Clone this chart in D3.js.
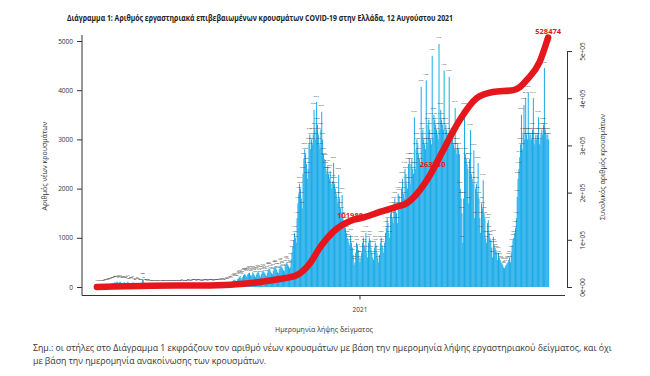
<!DOCTYPE html>
<html>
<head>
<meta charset="utf-8">
<script src="https://cdnjs.cloudflare.com/ajax/libs/d3/7.8.5/d3.min.js"></script>
<style>
body { margin: 0; background: #fff; }
text { font-family: "Open Sans", "DejaVu Sans", sans-serif; }
</style>
</head>
<body>
<div id="chart-area"></div>
<script>

var startDate = "2020-02-26";

// new cases per day (sample date), one row per month
var dailyCases = [
  1, 2, 1, 3,
  2, 3, 5, 9, 12, 20, 28, 35, 40, 45, 30, 50, 60, 55, 70, 80, 65, 90, 95, 85, 110, 100, 75, 95, 105, 90, 80, 70, 85, 95, 80,
  70, 90, 110, 60, 50, 75, 65, 80, 95, 55, 40, 35, 60, 70, 50, 45, 30, 25, 40, 160, 150, 80, 40, 30, 25, 20, 25, 30, 20, 15,
  15, 10, 12, 8, 10, 15, 12, 8, 10, 6, 8, 12, 10, 15, 20, 12, 8, 10, 12, 15, 18, 10, 8, 12, 15, 20, 12, 10, 8, 15, 20,
  18, 10, 12, 15, 20, 25, 15, 10, 12, 18, 15, 20, 25, 30, 20, 18, 15, 22, 28, 30, 35, 25, 20, 28, 35, 30, 25, 20, 18, 25,
  20, 25, 30, 28, 35, 20, 25, 30, 40, 35, 30, 25, 20, 30, 35, 40, 30, 25, 35, 45, 40, 30, 50, 55, 40, 35, 60, 70, 55, 45, 80,
  95, 100, 75, 110, 130, 150, 140, 120, 110, 160, 170, 200, 220, 180, 150, 200, 240, 260, 250, 230, 210, 260, 280, 290, 240, 220, 250, 300, 270, 230, 200,
  250, 280, 320, 290, 240, 200, 260, 300, 340, 310, 280, 250, 220, 290, 350, 380, 360, 310, 280, 260, 330, 400, 420, 390, 350, 300, 280, 360, 430, 450,
  400, 380, 340, 320, 420, 470, 500, 460, 420, 380, 400, 560, 700, 820, 950, 1100, 1000, 900, 1400, 1700, 1900, 2100, 2000, 1800, 1600, 2300, 2600, 2800, 2700, 2500, 2200,
  2400, 2900, 3100, 2800, 3000, 2900, 3100, 3600, 3200, 3000, 3760, 3300, 3100, 2900, 2800, 3200, 3560, 3000, 2700, 2600, 2580, 2400, 2300, 2450, 2300, 2200, 2350, 2100, 2000, 2150,
  2520, 2100, 2000, 1900, 1800, 1700, 2280, 1800, 1600, 1500, 1870, 1400, 1200, 1300, 1200, 1100, 1000, 950, 900, 850, 1050, 900, 800, 650, 450, 500, 700, 900, 850, 750, 600,
  500, 600, 700, 900, 1000, 850, 800, 1100, 700, 600, 900, 1000, 950, 800, 700, 600, 550, 800, 900, 850, 700, 600, 500, 650, 900, 1000, 850, 800, 700, 900, 1100,
  1200, 1400, 1300, 1100, 1000, 1500, 1600, 1400, 1300, 1700, 1800, 1600, 1500, 1300, 1900, 1850, 1700, 1600, 2000, 2200, 1900, 1800, 2400, 2300, 2100, 2000, 2500, 2600,
  2100, 2500, 2600, 2400, 2300, 3450, 2400, 2800, 3000, 2900, 2700, 2600, 2500, 4070, 3100, 3200, 3000, 2900, 2800, 4200, 2900, 3300, 3400, 3200, 3000, 2900, 4700, 3000, 3500, 3400, 3300,
  3200, 3100, 3000, 4940, 3200, 3600, 3400, 3300, 3200, 4400, 3000, 3300, 3200, 3100, 3000, 4270, 2900, 3000, 3100, 3000, 2900, 2800, 3640, 2800, 2700, 2900, 2800, 2700, 2000, 1800,
  1500, 900, 1800, 3600, 2700, 2600, 2500, 2400, 1700, 2600, 3190, 2300, 2200, 2100, 2780, 1400, 2000, 2100, 1900, 2520, 1800, 1400, 1100, 1700, 1600, 2170, 1500, 1400, 1000, 900, 1300,
  1360, 1100, 1000, 950, 800, 600, 1020, 850, 800, 750, 700, 550, 690, 600, 550, 500, 480, 450, 400, 380, 420, 450, 480, 500, 550, 600, 500, 700, 850, 950,
  1000, 1100, 1200, 1400, 1830, 2200, 2400, 2640, 2900, 3500, 2800, 3100, 3700, 3000, 3840, 3100, 3000, 3960, 3100, 3000, 3100, 3000, 3200, 3840, 2900, 3000, 3100, 3000, 3100, 3450, 2900,
  3000, 3100, 3200, 3100, 3300, 4450, 3200, 3100, 3000, 3100, 3000
];

// cumulative total
var cumDates = ["2020-02-27", "2020-04-30", "2020-06-27", "2020-08-02", "2020-09-06", "2020-09-29",
  "2020-10-19", "2020-11-04", "2020-11-16", "2020-12-01", "2020-12-21", "2021-01-07", "2021-01-25",
  "2021-02-12", "2021-02-26", "2021-03-13", "2021-03-25", "2021-04-09", "2021-04-29", "2021-05-19",
  "2021-06-07", "2021-07-01", "2021-07-09", "2021-07-17", "2021-08-01", "2021-08-11"];
var cumValues = [0, 2600, 3300, 5000, 10600, 17000, 25000, 51000, 85000, 117000, 140000, 148000, 159000,
  169000, 178000, 205000, 237000, 288000, 354000, 400000, 413000, 417000, 424000, 439000, 477000, 528474];

var cumLabelDates = ["2020-12-21", "2021-03-28", "2021-08-11"];
var cumLabelTexts = ["101988", "263750", "528474"];

var leftTicks = [0, 1000, 2000, 3000, 4000, 5000];
var rightTicks = [0, 100000, 200000, 300000, 400000, 500000];
var rightTickLabels = ["0e+00", "1e+05", "2e+05", "3e+05", "4e+05", "5e+05"];
var xTickDates = ["2021-01-01"];
var xTickLabels = ["2021"];

var parse = d3.timeParse("%Y-%m-%d");
var start = parse(startDate);
var days = dailyCases.map(function(v, i){
    return { date: d3.timeDay.offset(start, i), cases: v };
});

var svg = d3.select("#chart-area")
    .append("svg")
    .attr("width", 650)
    .attr("height", 376);

var x = d3.scaleTime()
    .domain([start, d3.timeDay.offset(start, dailyCases.length)])
    .range([96, 549]);

var y = d3.scaleLinear()
    .domain([0, 5000])
    .range([287, 41]);

var y2 = d3.scaleLinear()
    .domain([0, 500000])
    .range([287, 51]);

// title
svg.append("text")
    .attr("x", 260)
    .attr("y", 21)
    .attr("text-anchor", "middle")
    .attr("font-size", "8.5px")
    .attr("font-weight", "bold")
    .attr("fill", "#222")
    .attr("textLength", 386)
    .attr("lengthAdjust", "spacingAndGlyphs")
    .text("Διάγραμμα 1: Αριθμός εργαστηριακά επιβεβαιωμένων κρουσμάτων COVID-19 στην Ελλάδα, 12 Αυγούστου 2021");

// bars
svg.selectAll(".bar")
    .data(days)
    .enter()
    .append("rect")
    .attr("class", "bar")
    .attr("x", function(d){ return x(d.date); })
    .attr("width", function(d){ return x(d3.timeDay.offset(d.date, 1)) - x(d.date) + 0.15; })
    .attr("y", function(d){ return y(d.cases); })
    .attr("height", function(d){ return y(0) - y(d.cases); })
    .style("fill", "#1aabe8");

// tiny value labels on bars
svg.selectAll(".val")
    .data(days)
    .enter()
    .append("text")
    .attr("class", "val")
    .attr("x", function(d){ return x(d.date); })
    .attr("y", function(d){ return y(d.cases) - 5.5; })
    .attr("text-anchor", "middle")
    .attr("font-size", "2.4px")
    .attr("fill", "#3a3a3a")
    .text(function(d){ return d.cases; });

// cumulative line
var line = d3.line()
    .x(function(d){ return x(d.date); })
    .y(function(d){ return y2(d.value); })
    .curve(d3.curveMonotoneX);

var cum = cumDates.map(function(d, i){ return { date: parse(d), value: cumValues[i] }; });

svg.append("path")
    .datum(cum)
    .attr("d", line)
    .attr("fill", "none")
    .attr("stroke", "#e6161d")
    .attr("stroke-width", 6.5)
    .attr("stroke-linecap", "round");

var cumAt = function(dt){
    var t = +dt;
    for (var i = 1; i < cum.length; i++) {
        if (t <= +cum[i].date) {
            var a = cum[i-1], b = cum[i];
            var f = (t - a.date) / (b.date - a.date);
            return a.value + f * (b.value - a.value);
        }
    }
    return cum[cum.length-1].value;
};

svg.selectAll(".cumlab")
    .data(cumLabelDates)
    .enter()
    .append("text")
    .attr("class", "cumlab")
    .attr("x", function(d){ return x(parse(d)); })
    .attr("y", function(d){ return y2(cumAt(parse(d))) - 6; })
    .attr("dy", "0.35em")
    .attr("text-anchor", "middle")
    .attr("font-size", "7.5px")
    .attr("font-weight", "bold")
    .attr("fill", "#e6161d")
    .text(function(d, i){ return cumLabelTexts[i]; });

// box (left + bottom)
svg.append("path")
    .attr("d", "M82,35V295.5H565")
    .attr("fill", "none")
    .attr("stroke", "#333")
    .attr("stroke-width", 1);

// left axis
var yAxisCall = d3.axisLeft(y)
    .tickValues(leftTicks)
    .tickFormat(d3.format("d"))
    .tickSize(5)
    .tickPadding(4);
var gy = svg.append("g")
    .attr("class", "y axis")
    .attr("transform", "translate(82,0)")
    .call(yAxisCall);
gy.select(".domain").remove();
gy.selectAll("line").attr("stroke", "#333");
gy.selectAll("text")
    .attr("font-size", "6.5px")
    .attr("fill", "#333")
    .style("font-family", "'Open Sans', sans-serif");

// right axis
var y2AxisCall = d3.axisRight(y2)
    .tickValues(rightTicks)
    .tickSize(5)
    .tickSizeOuter(0)
    .tickFormat(function(d, i){ return rightTickLabels[i]; });
var gy2 = svg.append("g")
    .attr("class", "y2 axis")
    .attr("transform", "translate(567,0)")
    .call(y2AxisCall);
gy2.select(".domain").attr("stroke", "#333");
gy2.selectAll("line").attr("stroke", "#333");
gy2.selectAll("text")
    .attr("x", null)
    .attr("dy", null)
    .attr("transform", "translate(17.5,0) rotate(-90)")
    .attr("text-anchor", "middle")
    .attr("font-size", "6.5px")
    .attr("fill", "#333")
    .style("font-family", "'Open Sans', sans-serif");

// bottom axis
var xAxisCall = d3.axisBottom(x)
    .tickValues(xTickDates.map(parse))
    .tickSize(4)
    .tickSizeOuter(0)
    .tickFormat(function(d, i){ return xTickLabels[i]; });
var gx = svg.append("g")
    .attr("class", "x axis")
    .attr("transform", "translate(0,295.5)")
    .call(xAxisCall);
gx.select(".domain").remove();
gx.selectAll("line").attr("stroke", "#333");
gx.selectAll("text")
    .attr("y", 12)
    .attr("font-size", "6.5px")
    .attr("fill", "#333")
    .style("font-family", "'Open Sans', sans-serif");

// axis titles
svg.append("text")
    .attr("transform", "translate(47,166) rotate(-90)")
    .attr("text-anchor", "middle")
    .attr("font-size", "7px")
    .attr("fill", "#333")
    .text("Αριθμός νέων κρουσμάτων");

svg.append("text")
    .attr("transform", "translate(605,167) rotate(-90)")
    .attr("text-anchor", "middle")
    .attr("font-size", "7px")
    .attr("fill", "#333")
    .text("Συνολικός αριθμός κρουσμάτων");

svg.append("text")
    .attr("x", 324)
    .attr("y", 332)
    .attr("text-anchor", "middle")
    .attr("font-size", "7px")
    .attr("fill", "#333")
    .text("Ημερομηνία λήψης δείγματος");

// note, sized so the first line spans the same width as in the original
var note1 = svg.append("text")
    .attr("x", 33)
    .attr("y", 351)
    .attr("font-size", "7.5px")
    .attr("fill", "#333")
    .text("Σημ.: οι στήλες στο Διάγραμμα 1 εκφράζουν τον αριθμό νέων κρουσμάτων με βάση την ημερομηνία λήψης εργαστηριακού δείγματος, και όχι");
var noteSize = 7.5 * 579 / note1.node().getComputedTextLength();
note1.attr("font-size", noteSize + "px");

svg.append("text")
    .attr("x", 33)
    .attr("y", 364)
    .attr("font-size", noteSize + "px")
    .attr("fill", "#333")
    .text("με βάση την ημερομηνία ανακοίνωσης των κρουσμάτων.");

</script>
</body>
</html>
